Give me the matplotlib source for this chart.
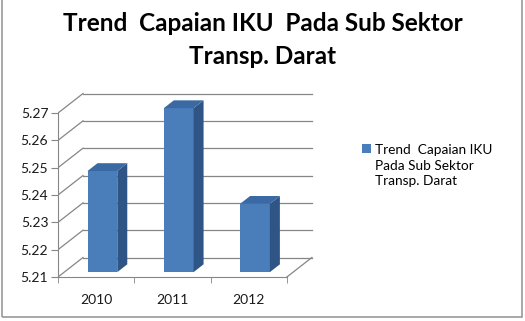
import matplotlib
matplotlib.use("Agg")
import matplotlib.pyplot as plt
from matplotlib.patches import Polygon, Rectangle
import numpy as np

# ---- data ----
categories = ["2010", "2011", "2012"]
values = [5.247, 5.270, 5.235]
series_name = "Trend  Capaian IKU\nPada Sub Sektor\nTransp. Darat"
title = "Trend  Capaian IKU  Pada Sub Sektor\nTransp. Darat"
yticks = [5.21, 5.22, 5.23, 5.24, 5.25, 5.26, 5.27]

plt.rcParams['font.family'] = ['Lato', 'DejaVu Sans']

W, H = 525, 321
fig = plt.figure(figsize=(W / 100, H / 100), dpi=100)
fig.patch.set_facecolor("white")

# layout in pixels
px0, px1 = 58, 318        # axes left/right
py0, py1 = 88, 282        # axes top/bottom (from top)
x_front0_px = 58          # px of x=-0.5
px_per_cat = 76.3
y_base_px = 277           # px of yticks[0]
px_per_val = 2733.0

ax = fig.add_axes([px0 / W, (H - py1) / H, (px1 - px0) / W, (py1 - py0) / H])
ax.set_xlim(-0.5 + (px0 - x_front0_px) / px_per_cat, -0.5 + (px1 - x_front0_px) / px_per_cat)
ax.set_ylim(yticks[0] - (py1 - y_base_px) / px_per_val, yticks[0] + (y_base_px - py0) / px_per_val)
ax.patch.set_alpha(0)

n = len(categories)
DX = 25 / px_per_cat
DY = 19.5 / px_per_val
grid_c = "#868686"
base = yticks[0]

# back wall gridlines and side wall diagonals
for v in yticks:
    ax.plot([-0.5 + DX, n - 0.5 + DX], [v + DY, v + DY], color=grid_c, lw=0.9, zorder=1)
    ax.plot([-0.5, -0.5 + DX], [v, v + DY], color=grid_c, lw=0.9, zorder=1)
# floor right edge
ax.plot([n - 0.5, n - 0.5 + DX], [base, base + DY], color=grid_c, lw=0.9, zorder=1)

# bars
f0, fd, bw = 0.25, 0.40, 0.39
xs = np.arange(n) + f0 * DX
bottoms = base + f0 * DY
heights = np.array(values) - base
front = "#4A7EBB"
side = "#2F5586"
top = "#3A69A3"
bars = ax.bar(xs, heights, width=bw, bottom=bottoms, color=front, zorder=3,
              label=series_name, linewidth=0)
for x, h in zip(xs, heights):
    xl, xr = x - bw / 2, x + bw / 2
    b, t = bottoms, bottoms + h
    ax.add_patch(Polygon([(xr, b), (xr + fd * DX, b + fd * DY), (xr + fd * DX, t + fd * DY), (xr, t)],
                         closed=True, facecolor=side, edgecolor="none", zorder=3))
    ax.add_patch(Polygon([(xl, t), (xl + fd * DX, t + fd * DY), (xr + fd * DX, t + fd * DY), (xr, t)],
                         closed=True, facecolor=top, edgecolor="none", zorder=3))

# axes styling
for s in ["top", "right"]:
    ax.spines[s].set_visible(False)
ax.spines["left"].set_bounds(yticks[0], yticks[-1])
ax.spines["left"].set_color(grid_c)
ax.spines["left"].set_position(("data", -0.5))
ax.spines["bottom"].set_bounds(-0.5, n - 0.5)
ax.spines["bottom"].set_color(grid_c)
ax.spines["bottom"].set_position(("data", base))
ax.set_yticks(yticks)
ax.set_yticklabels([f"{t:.2f}" for t in yticks])
ax.tick_params(axis="y", length=5, color=grid_c, labelsize=10, pad=2, labelcolor="#1a1a1a")
ax.set_xticks(np.arange(n))
ax.set_xticklabels(categories)
ax.set_xticks(np.arange(n + 1) - 0.5, minor=True)
ax.tick_params(axis="x", which="major", length=0, labelsize=10, pad=12, labelcolor="#1a1a1a")
ax.tick_params(axis="x", which="minor", length=4, color=grid_c)

# title
fig.text(0.5, 1 - 12 / H, title, ha="center", va="top", fontsize=17.5, fontweight="bold",
         linespacing=1.55, color="black")

# legend
leg = ax.legend(loc="upper left", bbox_to_anchor=(362 / W, 1 - 144 / H), bbox_transform=fig.transFigure,
                frameon=False, fontsize=9.8, handlelength=0.65, handleheight=0.65, handletextpad=0.3,
                borderaxespad=0, borderpad=0)
for child in leg._legend_handle_box.get_children():
    for c in child.get_children():
        c.align = "top"
for t in leg.get_texts():
    t.set_linespacing(1.35)

# outer border
fig.patches.append(Rectangle((2 / W, 4 / H), 520 / W, 1.1, transform=fig.transFigure,
                             fill=False, edgecolor="#9a9a9a", lw=1.2))

fig.savefig("out.png", dpi=100)
